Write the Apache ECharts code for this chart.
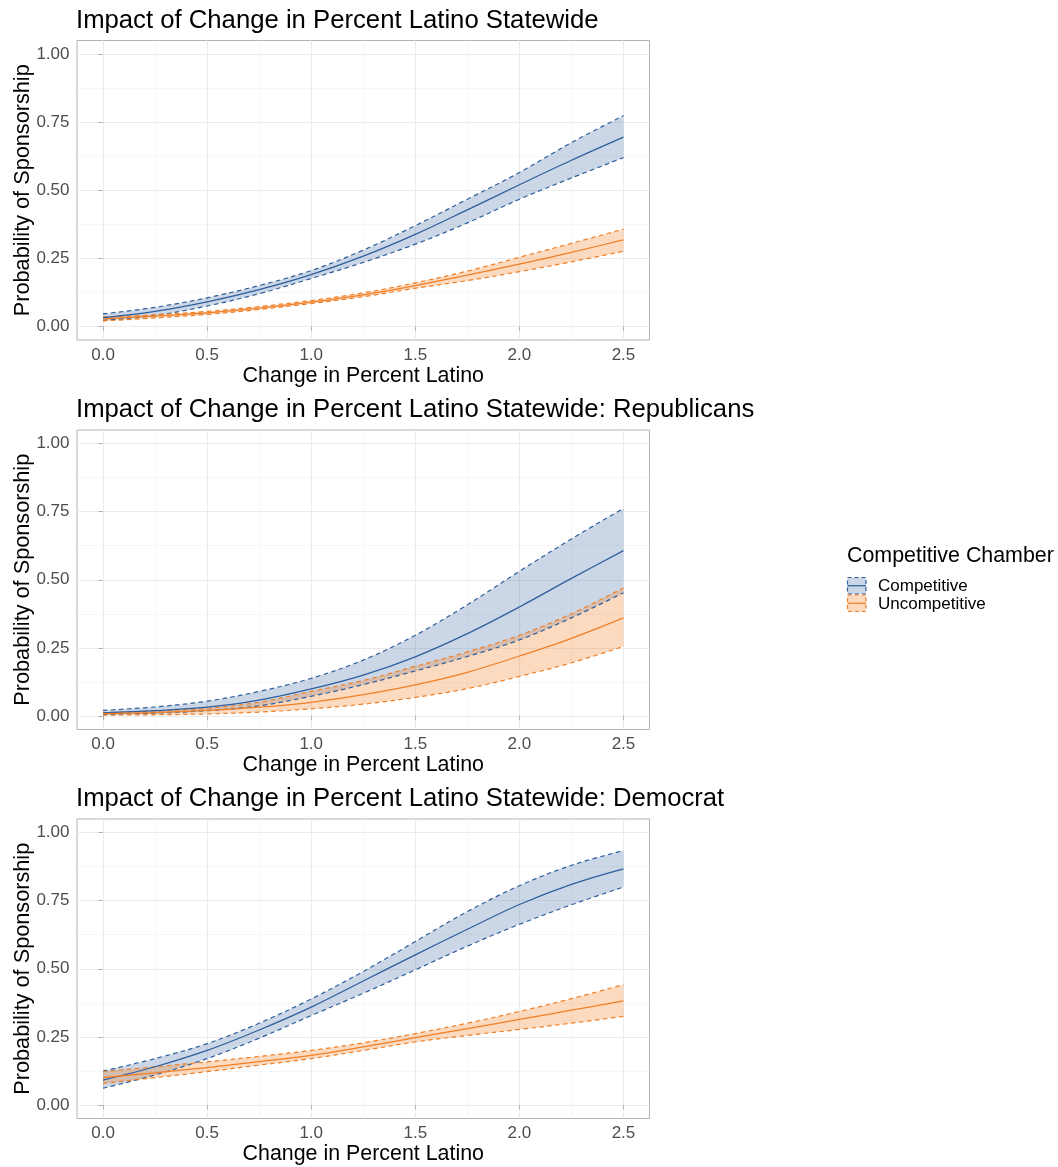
<!DOCTYPE html>
<html>
<head>
<meta charset="utf-8">
<script src="https://cdn.jsdelivr.net/npm/echarts@6/dist/echarts.min.js"></script>
<style>
  html, body { margin: 0; padding: 0; background: #ffffff; }
  #chart { width: 1058px; height: 1167px; }
</style>
</head>
<body>
<div id="chart"></div>
<script>
// Predicted probability of sponsorship across change in percent Latino
const xValues = [0, 0.25, 0.5, 0.75, 1.0, 1.25, 1.5, 1.75, 2.0, 2.25, 2.5];

const panelTitles = [
  'Impact of Change in Percent Latino Statewide',
  'Impact of Change in Percent Latino Statewide: Republicans',
  'Impact of Change in Percent Latino Statewide: Democrat'
];
const groupNames = ['Competitive', 'Uncompetitive'];
const legendTitle = 'Competitive Chamber';
const xAxisTitle = 'Change in Percent Latino';
const yAxisTitle = 'Probability of Sponsorship';

const xTicks = [0, 0.5, 1.0, 1.5, 2.0, 2.5];
const xMinorTicks = [0.25, 0.75, 1.25, 1.75, 2.25];
const yTicks = [0, 0.25, 0.5, 0.75, 1.0];
const yMinorTicks = [0.125, 0.375, 0.625, 0.875];

// All legislators
const allCompFit  = [0.032, 0.055, 0.090, 0.135, 0.190, 0.258, 0.338, 0.428, 0.520, 0.610, 0.695];
const allCompLow  = [0.022, 0.040, 0.075, 0.120, 0.176, 0.235, 0.302, 0.380, 0.467, 0.545, 0.620];
const allCompHigh = [0.046, 0.070, 0.105, 0.150, 0.205, 0.280, 0.370, 0.467, 0.565, 0.675, 0.774];
const allUncFit   = [0.028, 0.038, 0.050, 0.067, 0.089, 0.116, 0.150, 0.188, 0.229, 0.272, 0.318];
const allUncLow   = [0.020, 0.031, 0.044, 0.062, 0.084, 0.109, 0.140, 0.168, 0.201, 0.237, 0.276];
const allUncHigh  = [0.034, 0.043, 0.055, 0.073, 0.095, 0.123, 0.160, 0.203, 0.254, 0.305, 0.357];

// Republicans
const repCompFit  = [0.011, 0.019, 0.032, 0.058, 0.099, 0.150, 0.217, 0.302, 0.400, 0.505, 0.607];
const repCompLow  = [0.005, 0.010, 0.019, 0.037, 0.072, 0.115, 0.165, 0.218, 0.279, 0.360, 0.452];
const repCompHigh = [0.020, 0.033, 0.054, 0.090, 0.138, 0.205, 0.296, 0.408, 0.531, 0.650, 0.762];
const repUncFit   = [0.008, 0.012, 0.020, 0.032, 0.050, 0.078, 0.114, 0.160, 0.220, 0.285, 0.360];
const repUncLow   = [0.003, 0.004, 0.007, 0.014, 0.026, 0.043, 0.068, 0.100, 0.145, 0.195, 0.255];
const repUncHigh  = [0.012, 0.018, 0.028, 0.050, 0.090, 0.130, 0.182, 0.235, 0.296, 0.375, 0.470];

// Democrats
const demCompFit  = [0.091, 0.140, 0.200, 0.275, 0.359, 0.455, 0.551, 0.645, 0.736, 0.810, 0.867];
const demCompLow  = [0.061, 0.110, 0.170, 0.245, 0.328, 0.410, 0.496, 0.583, 0.663, 0.735, 0.800];
const demCompHigh = [0.124, 0.170, 0.225, 0.300, 0.389, 0.490, 0.600, 0.710, 0.805, 0.880, 0.934];
const demUncFit   = [0.100, 0.118, 0.137, 0.159, 0.182, 0.213, 0.247, 0.280, 0.314, 0.348, 0.382];
const demUncLow   = [0.079, 0.100, 0.122, 0.146, 0.170, 0.200, 0.231, 0.255, 0.277, 0.300, 0.325];
const demUncHigh  = [0.122, 0.140, 0.158, 0.178, 0.200, 0.228, 0.262, 0.300, 0.343, 0.390, 0.442];

const panels = [
  { comp: [allCompFit, allCompLow, allCompHigh], unc: [allUncFit, allUncLow, allUncHigh] },
  { comp: [repCompFit, repCompLow, repCompHigh], unc: [repUncFit, repUncLow, repUncHigh] },
  { comp: [demCompFit, demCompLow, demCompHigh], unc: [demUncFit, demUncLow, demUncHigh] }
];

const FONT = '"Liberation Sans", Arial, Helvetica, sans-serif';
const COLORS = ['#2E5E9C', '#F07F26'];
const FILLS = ['rgba(46,94,156,0.25)', 'rgba(240,127,38,0.29)'];
const GRID_MAJOR = '#ebebeb';
const GRID_MINOR = '#f2f2f2';
const BORDER = '#b3b3b3';
const SMOOTH = 0.35;
const DASH = [4.5, 3.5];

const X_RANGE = [-0.125, 2.625];
const Y_RANGE = [-0.05, 1.05];
const panelTops = [40.5, 430, 819];
const PANEL_LEFT = 77, PANEL_WIDTH = 572.5, PANEL_HEIGHT = 299.5;

const grids = [], xAxes = [], yAxes = [], titles = [], series = [];

const pairs = (ys) => xValues.map((x, i) => [x, ys[i]]);

// Sample a smoothed curve through screen points using the same control-point
// rule as the line series, so the ribbon edges follow the dashed bound lines.
function smoothCurve(pts, smooth, steps) {
  const out = [pts[0].slice()];
  let cp0x = pts[0][0], cp0y = pts[0][1];
  for (let i = 0; i < pts.length - 1; i++) {
    const [x0, y0] = pts[i];
    const [x1, y1] = pts[i + 1];
    let cp1x = x1, cp1y = y1, nextCp0x = x1, nextCp0y = y1;
    if (i + 2 < pts.length) {
      const [x2, y2] = pts[i + 2];
      const vx = x2 - x0, vy = y2 - y0;
      const d0 = Math.hypot(x1 - x0, y1 - y0);
      const d1 = Math.hypot(x2 - x1, y2 - y1);
      const r = d1 / (d0 + d1);
      nextCp0x = x1 + vx * smooth * r; nextCp0y = y1 + vy * smooth * r;
      cp1x = x1 - vx * smooth * (1 - r); cp1y = y1 - vy * smooth * (1 - r);
    }
    for (let s = 1; s <= steps; s++) {
      const t = s / steps, u = 1 - t;
      out.push([
        u * u * u * x0 + 3 * u * u * t * cp0x + 3 * u * t * t * cp1x + t * t * t * x1,
        u * u * u * y0 + 3 * u * u * t * cp0y + 3 * u * t * t * cp1y + t * t * t * y1
      ]);
    }
    cp0x = nextCp0x; cp0y = nextCp0y;
  }
  return out;
}

function ribbonSeries(xi, yi, low, high, fill) {
  return {
    type: 'custom', xAxisIndex: xi, yAxisIndex: yi, silent: true, z: 2, clip: true,
    data: [[xValues[0], low[0]]],
    renderItem: (params, api) => {
      const upper = smoothCurve(xValues.map((x, i) => api.coord([x, high[i]])), SMOOTH, 12);
      const lower = smoothCurve(xValues.map((x, i) => api.coord([x, low[i]])), SMOOTH, 12);
      return {
        type: 'polygon',
        shape: { points: upper.concat(lower.reverse()) },
        style: { fill: fill, stroke: null }
      };
    }
  };
}

function boundSeries(xi, yi, ys, color) {
  return {
    type: 'line', xAxisIndex: xi, yAxisIndex: yi, data: pairs(ys),
    smooth: SMOOTH, symbol: 'none', silent: true, z: 2,
    lineStyle: { color: color, width: 1.2, type: DASH }
  };
}

panels.forEach((panel, p) => {
  grids.push({
    left: PANEL_LEFT, top: panelTops[p], width: PANEL_WIDTH, height: PANEL_HEIGHT,
    outerBoundsMode: 'none', containLabel: false,
    show: true, borderColor: BORDER, borderWidth: 1, backgroundColor: 'transparent'
  });
  titles.push({
    text: panelTitles[p], left: PANEL_LEFT - 1, top: panelTops[p] - 33, padding: 0,
    textStyle: { fontFamily: FONT, fontSize: 25.7, fontWeight: 'normal', color: '#000' }
  });

  // data x axis with major gridlines
  xAxes.push({
    type: 'value', gridIndex: p, min: X_RANGE[0], max: X_RANGE[1],
    name: xAxisTitle, nameLocation: 'middle', nameGap: 25.5, nameMoveOverlap: false,
    nameTextStyle: { fontFamily: FONT, fontSize: 21.4, color: '#000' },
    axisLine: { show: false },
    axisTick: { show: true, length: 4.5, customValues: xTicks, lineStyle: { color: BORDER, width: 1 } },
    axisLabel: {
      show: true, customValues: xTicks, margin: 6.5,
      formatter: (v) => v.toFixed(1),
      fontFamily: FONT, fontSize: 17, color: '#4d4d4d'
    },
    splitLine: { show: true, lineStyle: { color: GRID_MAJOR, width: 1.1 } }
  });
  // minor x gridlines
  xAxes.push({
    type: 'value', gridIndex: p, min: X_RANGE[0], max: X_RANGE[1],
    axisLine: { show: false },
    axisTick: { show: false, customValues: xMinorTicks },
    axisLabel: { show: false, customValues: xMinorTicks },
    splitLine: { show: true, lineStyle: { color: GRID_MINOR, width: 0.7 } }
  });
  // data y axis with major gridlines
  yAxes.push({
    type: 'value', gridIndex: p, min: Y_RANGE[0], max: Y_RANGE[1],
    name: yAxisTitle, nameLocation: 'middle', nameGap: 43, nameRotate: 90, nameMoveOverlap: false,
    nameTextStyle: { fontFamily: FONT, fontSize: 21.7, color: '#000' },
    axisLine: { show: false },
    axisTick: { show: true, length: 4.5, customValues: yTicks, lineStyle: { color: BORDER, width: 1 } },
    axisLabel: {
      show: true, customValues: yTicks, margin: 7.5, padding: [3, 0, 0, 0],
      formatter: (v) => v.toFixed(2),
      fontFamily: FONT, fontSize: 17, color: '#4d4d4d'
    },
    splitLine: { show: true, lineStyle: { color: GRID_MAJOR, width: 1.1 } }
  });
  // minor y gridlines
  yAxes.push({
    type: 'value', gridIndex: p, min: Y_RANGE[0], max: Y_RANGE[1],
    axisLine: { show: false },
    axisTick: { show: false, customValues: yMinorTicks },
    axisLabel: { show: false, customValues: yMinorTicks },
    splitLine: { show: true, lineStyle: { color: GRID_MINOR, width: 0.7 } }
  });

  const xi = 2 * p, yi = 2 * p;
  const groups = [panel.comp, panel.unc];

  // confidence ribbons (fill + dashed bounds), competitive first
  groups.forEach((g, k) => {
    const [, low, high] = g;
    series.push(ribbonSeries(xi, yi, low, high, FILLS[k]));
    series.push(boundSeries(xi, yi, low, COLORS[k]));
    series.push(boundSeries(xi, yi, high, COLORS[k]));
  });
  // fitted probability lines
  groups.forEach((g, k) => {
    series.push({
      type: 'line', name: groupNames[k], xAxisIndex: xi, yAxisIndex: yi,
      data: pairs(g[0]), smooth: SMOOTH, symbol: 'none', silent: true, z: 3,
      lineStyle: { color: COLORS[k], width: 1.25 }
    });
  });
});

// legend: ribbon key with dashed outline and a fit line through the middle
const legendX = 847, legendKeyTop = 577, keyW = 18.5, keyH = 17.5;
const legendElements = [
  {
    type: 'text', x: legendX, y: 556,
    style: { text: legendTitle, fontFamily: FONT, fontSize: 21.4, fill: '#000', verticalAlign: 'middle', align: 'left' }
  }
];
groupNames.forEach((name, k) => {
  const top = legendKeyTop + k * keyH;
  legendElements.push({
    type: 'rect', shape: { x: legendX + 0.5, y: top + 0.5, width: keyW, height: keyH - 1 },
    style: { fill: FILLS[k], stroke: COLORS[k], lineWidth: 1.2, lineDash: [4, 3] }
  });
  legendElements.push({
    type: 'line', shape: { x1: legendX + 0.5, y1: top + keyH / 2, x2: legendX + keyW + 0.5, y2: top + keyH / 2 },
    style: { stroke: COLORS[k], lineWidth: 1.25 }
  });
  legendElements.push({
    type: 'text', x: legendX + 31, y: top + keyH / 2 + 1,
    style: { text: name, fontFamily: FONT, fontSize: 17, fill: '#000', verticalAlign: 'middle', align: 'left' }
  });
});

const chart = echarts.init(document.getElementById('chart'), null, { renderer: 'canvas' });
chart.setOption({
  backgroundColor: '#ffffff',
  animation: false,
  title: titles,
  grid: grids,
  xAxis: xAxes,
  yAxis: yAxes,
  series: series,
  graphic: legendElements
});
</script>
</body>
</html>
